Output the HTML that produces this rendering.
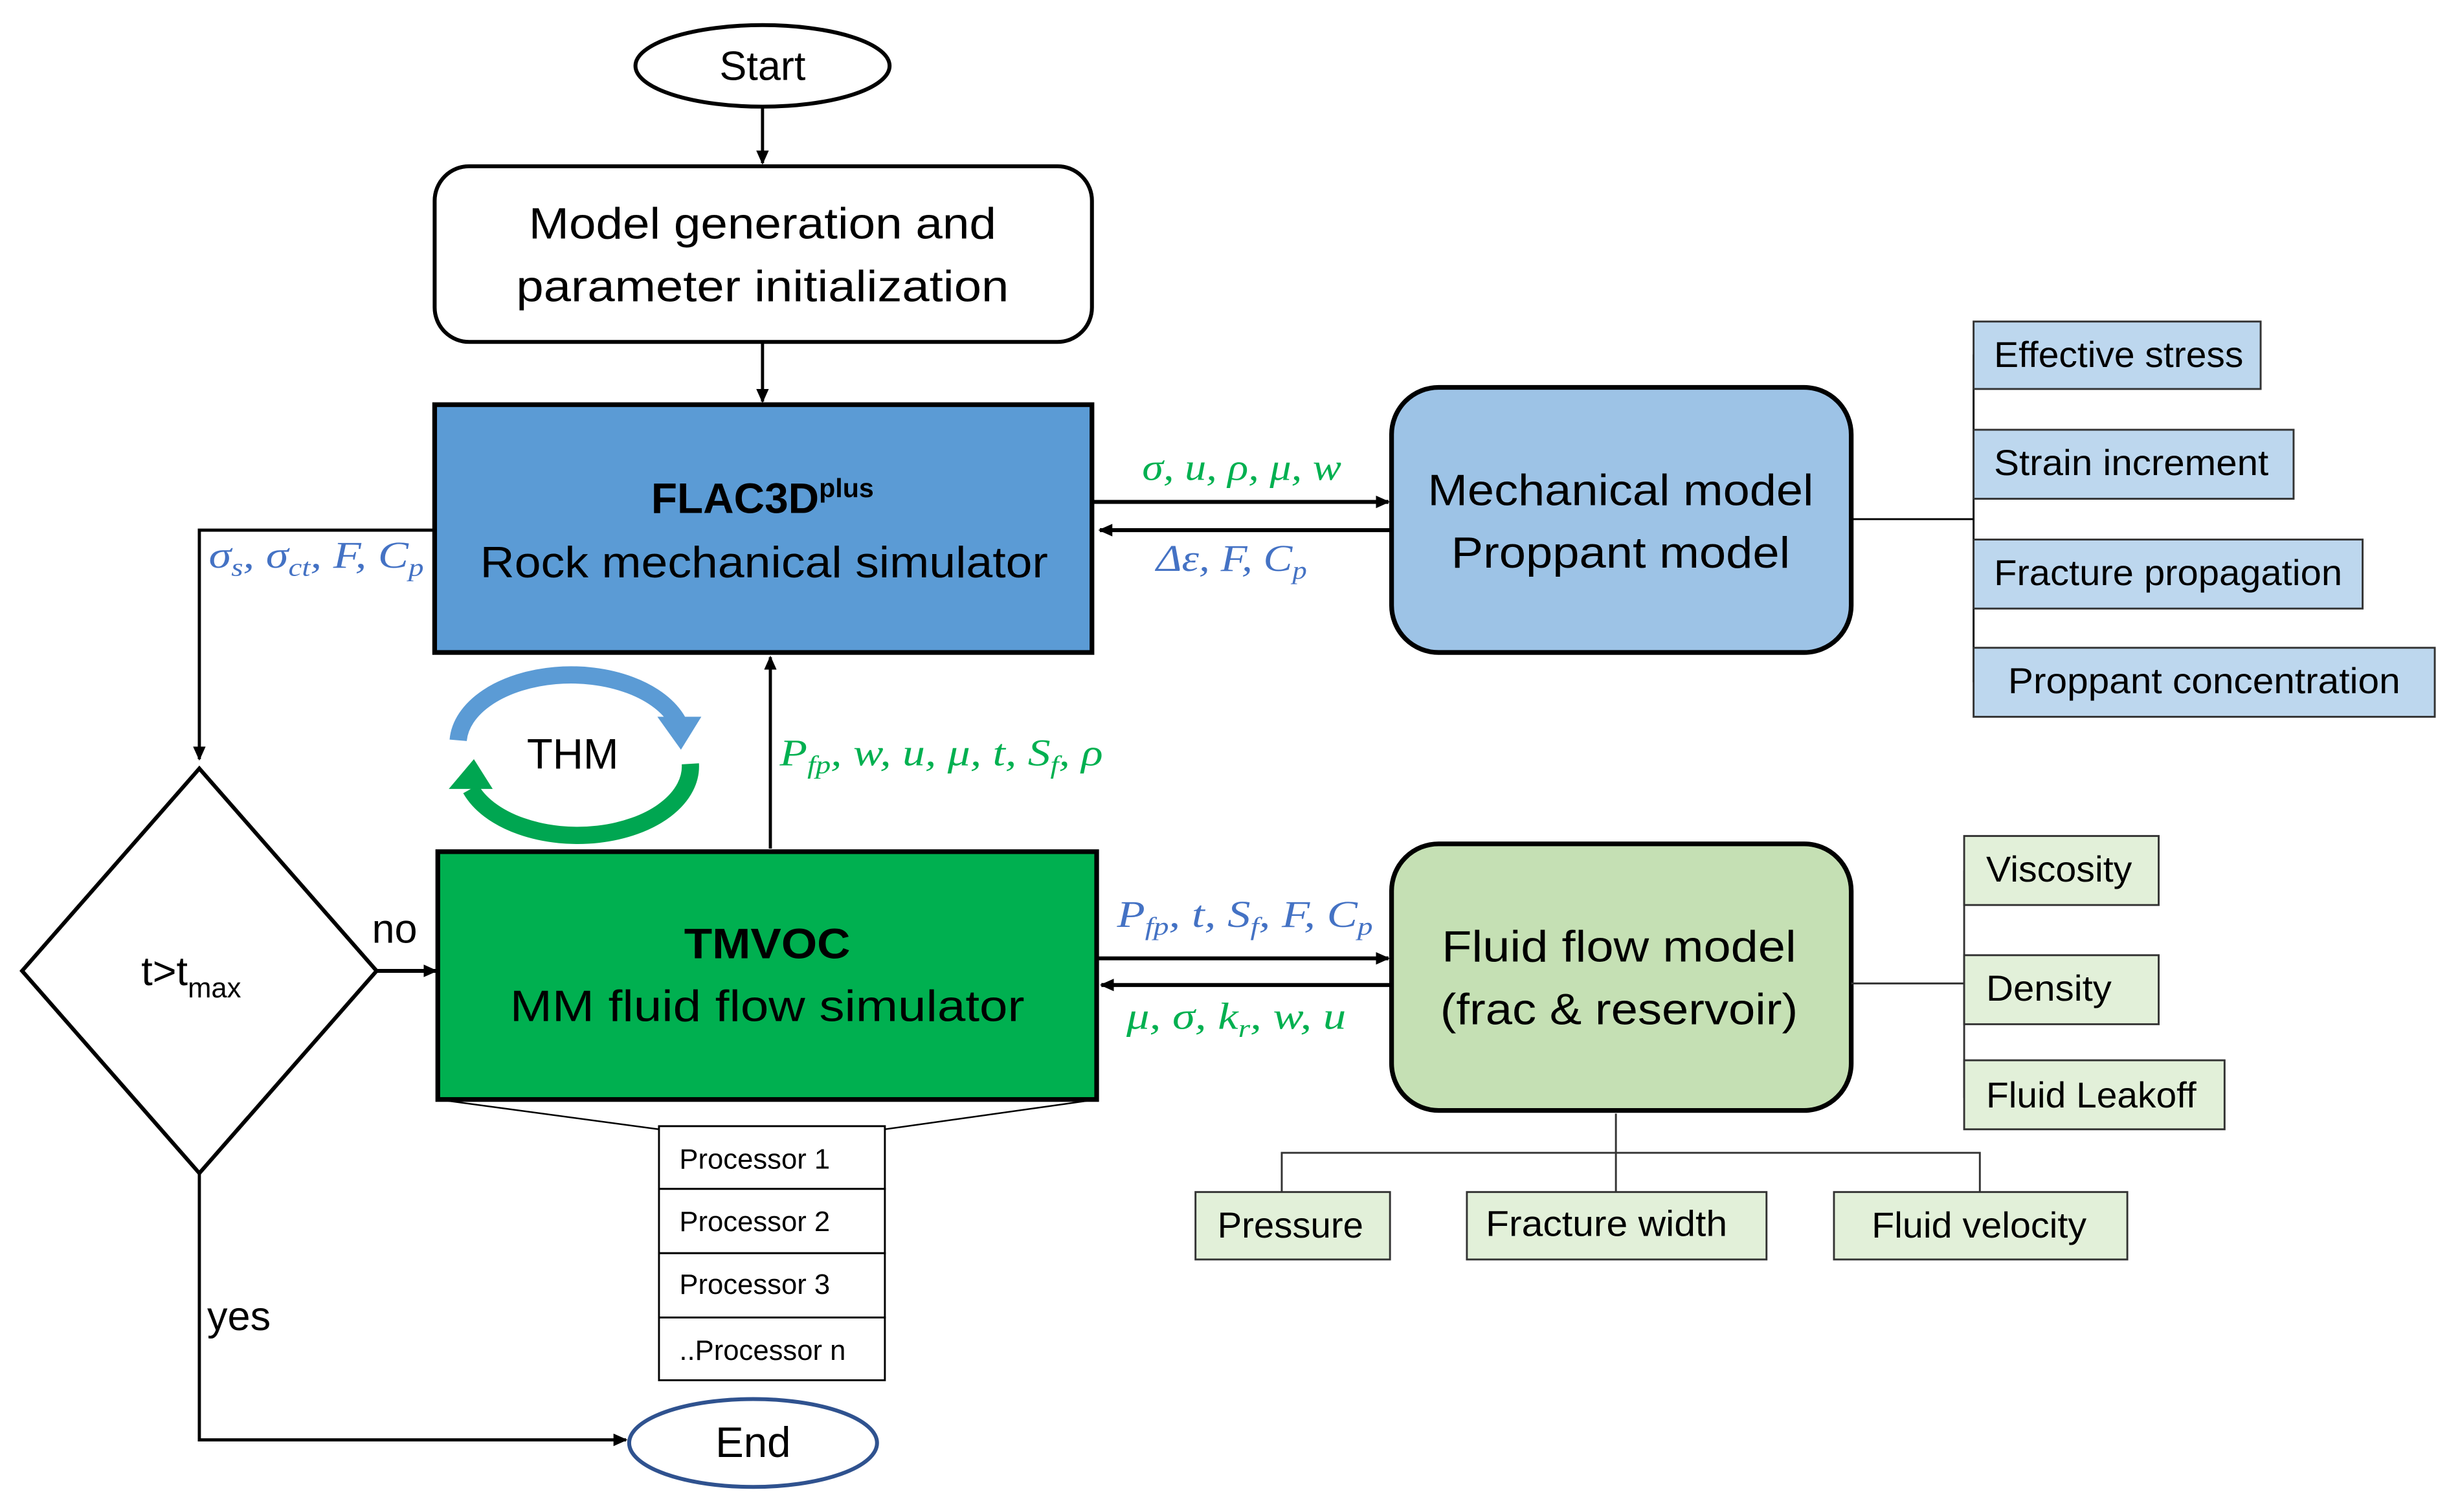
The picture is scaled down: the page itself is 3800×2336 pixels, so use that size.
<!DOCTYPE html>
<html><head><meta charset="utf-8"><style>
html,body{margin:0;padding:0;background:#fff;}
svg{display:block;}
.t{font-family:"Liberation Sans Narrow","Liberation Sans",sans-serif;fill:#000;}
.m{font-family:"Liberation Serif",serif;font-style:italic;}
.g{fill:#00b050;}
.b{fill:#4472c4;}
</style></head><body>
<svg width="3800" height="2336" viewBox="0 0 1568 964" xmlns="http://www.w3.org/2000/svg">
<defs>
<marker id="ar" markerWidth="10" markerHeight="10" refX="8" refY="5" orient="auto" markerUnits="userSpaceOnUse">
<path d="M0,1 L9,5 L0,9 z" fill="#000"/></marker>
</defs>
<rect width="1568" height="964" fill="#fff"/>

<ellipse cx="486" cy="42" rx="81" ry="26" fill="#fff" stroke="#000" stroke-width="2.5"/>
<text class="t" x="486" y="51" font-size="26" text-anchor="middle">Start</text>
<line x1="486" y1="68" x2="486" y2="104" stroke="#000" stroke-width="2" marker-end="url(#ar)"/>

<rect x="277" y="106" width="419" height="112" rx="22" fill="#fff" stroke="#000" stroke-width="2.5"/>
<text class="t" x="486" y="152" font-size="28" text-anchor="middle" textLength="298" lengthAdjust="spacingAndGlyphs">Model generation and</text>
<text class="t" x="486" y="192" font-size="28" text-anchor="middle" textLength="314" lengthAdjust="spacingAndGlyphs">parameter initialization</text>
<line x1="486" y1="218" x2="486" y2="256" stroke="#000" stroke-width="2" marker-end="url(#ar)"/>

<rect x="277" y="258" width="419" height="158" fill="#5b9bd5" stroke="#000" stroke-width="3"/>
<text class="t" x="415" y="327" font-size="27" font-weight="bold" textLength="107" lengthAdjust="spacingAndGlyphs">FLAC3D</text>
<text class="t" x="522" y="317" font-size="17" font-weight="bold">plus</text>
<text class="t" x="487" y="368" font-size="28" text-anchor="middle" textLength="362" lengthAdjust="spacingAndGlyphs">Rock mechanical simulator</text>

<line x1="697" y1="320" x2="885" y2="320" stroke="#000" stroke-width="2.5" marker-end="url(#ar)"/>
<line x1="886" y1="338" x2="701" y2="338" stroke="#000" stroke-width="2.5" marker-end="url(#ar)"/>
<text class="m g" x="728" y="306" font-size="24" textLength="127" lengthAdjust="spacingAndGlyphs">σ, u, ρ, μ, w</text>
<text class="m b" x="737" y="364" font-size="24" textLength="96" lengthAdjust="spacingAndGlyphs">Δε, F, C<tspan font-size="16" dy="5">p</tspan></text>

<rect x="887" y="247" width="293" height="169" rx="30" fill="#9dc3e6" stroke="#000" stroke-width="3"/>
<text class="t" x="1033" y="322" font-size="28" text-anchor="middle" textLength="246" lengthAdjust="spacingAndGlyphs">Mechanical model</text>
<text class="t" x="1033" y="362" font-size="28" text-anchor="middle" textLength="216" lengthAdjust="spacingAndGlyphs">Proppant model</text>
<line x1="1180" y1="331" x2="1258" y2="331" stroke="#000" stroke-width="1.2"/>
<line x1="1258" y1="226" x2="1258" y2="435" stroke="#000" stroke-width="1.2"/>
<g fill="#bdd7ee" stroke="#333" stroke-width="1.2">
<rect x="1258" y="205" width="183" height="43"/>
<rect x="1258" y="274" width="204" height="44"/>
<rect x="1258" y="344" width="248" height="44"/>
<rect x="1258" y="413" width="294" height="44"/>
</g>
<text class="t" x="1271" y="234" font-size="23" textLength="159" lengthAdjust="spacingAndGlyphs">Effective stress</text>
<text class="t" x="1271" y="303" font-size="23" textLength="175" lengthAdjust="spacingAndGlyphs">Strain increment</text>
<text class="t" x="1271" y="373" font-size="23" textLength="222" lengthAdjust="spacingAndGlyphs">Fracture propagation</text>
<text class="t" x="1280" y="442" font-size="23" textLength="250" lengthAdjust="spacingAndGlyphs">Proppant concentration</text>

<polyline points="277,338 127,338 127,484" fill="none" stroke="#000" stroke-width="2" marker-end="url(#ar)"/>
<text class="m b" x="133" y="362" font-size="24" textLength="137" lengthAdjust="spacingAndGlyphs">σ<tspan font-size="16" dy="5">s</tspan><tspan dy="-5">, σ</tspan><tspan font-size="16" dy="5">ct</tspan><tspan dy="-5">, F, C</tspan><tspan font-size="16" dy="5">p</tspan></text>

<polygon points="127,490 240,619 127,748 14,619" fill="#fff" stroke="#000" stroke-width="2.5"/>
<text class="t" x="90" y="628" font-size="26">t&gt;t<tspan font-size="18" dy="8">max</tspan></text>
<text class="t" x="237" y="601" font-size="26">no</text>
<line x1="240" y1="619" x2="278" y2="619" stroke="#000" stroke-width="2.5" marker-end="url(#ar)"/>
<polyline points="127,748 127,918 399,918" fill="none" stroke="#000" stroke-width="2" marker-end="url(#ar)"/>
<text class="t" x="132" y="848" font-size="26">yes</text>

<ellipse cx="480" cy="920" rx="79" ry="28" fill="#fff" stroke="#2f528f" stroke-width="2.5"/>
<text class="t" x="480" y="929" font-size="27" text-anchor="middle">End</text>

<path d="M292,472 A72,44 0 0 1 432,460" fill="none" stroke="#5b9bd5" stroke-width="11"/>
<polygon points="419,457 447,457 434,478" fill="#5b9bd5"/>
<path d="M440,487 A72,44 0 0 1 300,503" fill="none" stroke="#00a651" stroke-width="11"/>
<polygon points="286,503 314,503 302,484" fill="#00a651"/>
<text class="t" x="365" y="490" font-size="27" text-anchor="middle">THM</text>

<line x1="491" y1="541" x2="491" y2="419" stroke="#000" stroke-width="2" marker-end="url(#ar)"/>
<text class="m g" x="497" y="488" font-size="24" textLength="206" lengthAdjust="spacingAndGlyphs">P<tspan font-size="16" dy="5">fp</tspan><tspan dy="-5">, w, u, μ, t, S</tspan><tspan font-size="16" dy="5">f</tspan><tspan dy="-5">, ρ</tspan></text>

<rect x="279" y="543" width="420" height="158" fill="#00b050" stroke="#000" stroke-width="3"/>
<text class="t" x="489" y="611" font-size="27" font-weight="bold" text-anchor="middle" textLength="106" lengthAdjust="spacingAndGlyphs">TMVOC</text>
<text class="t" x="489" y="651" font-size="28" text-anchor="middle" textLength="328" lengthAdjust="spacingAndGlyphs">MM fluid flow simulator</text>

<line x1="699" y1="611" x2="885" y2="611" stroke="#000" stroke-width="2.5" marker-end="url(#ar)"/>
<line x1="886" y1="628" x2="702" y2="628" stroke="#000" stroke-width="2.5" marker-end="url(#ar)"/>
<text class="m b" x="712" y="591" font-size="24" textLength="163" lengthAdjust="spacingAndGlyphs">P<tspan font-size="16" dy="5">fp</tspan><tspan dy="-5">, t, S</tspan><tspan font-size="16" dy="5">f</tspan><tspan dy="-5">, F, C</tspan><tspan font-size="16" dy="5">p</tspan></text>
<text class="m g" x="718" y="656" font-size="24" textLength="140" lengthAdjust="spacingAndGlyphs">μ, σ, k<tspan font-size="16" dy="5">r</tspan><tspan dy="-5">, w, u</tspan></text>

<line x1="279" y1="701" x2="420" y2="720" stroke="#000" stroke-width="1"/>
<line x1="699" y1="701" x2="564" y2="720" stroke="#000" stroke-width="1"/>
<g fill="#fff" stroke="#000" stroke-width="1.2">
<rect x="420" y="718" width="144" height="40"/>
<rect x="420" y="758" width="144" height="41"/>
<rect x="420" y="799" width="144" height="41"/>
<rect x="420" y="840" width="144" height="40"/>
</g>
<g class="t" font-size="18">
<text x="433" y="745" class="t">Processor 1</text>
<text x="433" y="785" class="t">Processor 2</text>
<text x="433" y="825" class="t">Processor 3</text>
<text x="433" y="867" class="t">..Processor n</text>
</g>

<rect x="887" y="538" width="293" height="170" rx="30" fill="#c5e0b4" stroke="#000" stroke-width="3"/>
<text class="t" x="1032" y="613" font-size="28" text-anchor="middle" textLength="226" lengthAdjust="spacingAndGlyphs">Fluid flow model</text>
<text class="t" x="1032" y="653" font-size="28" text-anchor="middle" textLength="228" lengthAdjust="spacingAndGlyphs">(frac &amp; reservoir)</text>
<line x1="1180" y1="627" x2="1252" y2="627" stroke="#333" stroke-width="1.2"/>
<line x1="1252" y1="555" x2="1252" y2="700" stroke="#333" stroke-width="1.2"/>
<g fill="#e2f0d9" stroke="#333" stroke-width="1.2">
<rect x="1252" y="533" width="124" height="44"/>
<rect x="1252" y="609" width="124" height="44"/>
<rect x="1252" y="676" width="166" height="44"/>
<rect x="762" y="760" width="124" height="43"/>
<rect x="935" y="760" width="191" height="43"/>
<rect x="1169" y="760" width="187" height="43"/>
</g>
<polyline points="817,760 817,735 1262,735 1262,760" fill="none" stroke="#333" stroke-width="1.2"/>
<line x1="1030" y1="710" x2="1030" y2="760" stroke="#333" stroke-width="1.2"/>
<g font-size="23">
<text class="t" x="1266" y="562" textLength="93" lengthAdjust="spacingAndGlyphs">Viscosity</text>
<text class="t" x="1266" y="638" textLength="80" lengthAdjust="spacingAndGlyphs">Density</text>
<text class="t" x="1266" y="706" textLength="134" lengthAdjust="spacingAndGlyphs">Fluid Leakoff</text>
<text class="t" x="776" y="789" textLength="93" lengthAdjust="spacingAndGlyphs">Pressure</text>
<text class="t" x="947" y="788" textLength="154" lengthAdjust="spacingAndGlyphs">Fracture width</text>
<text class="t" x="1193" y="789" textLength="137" lengthAdjust="spacingAndGlyphs">Fluid velocity</text>
</g>
</svg>
</body></html>
